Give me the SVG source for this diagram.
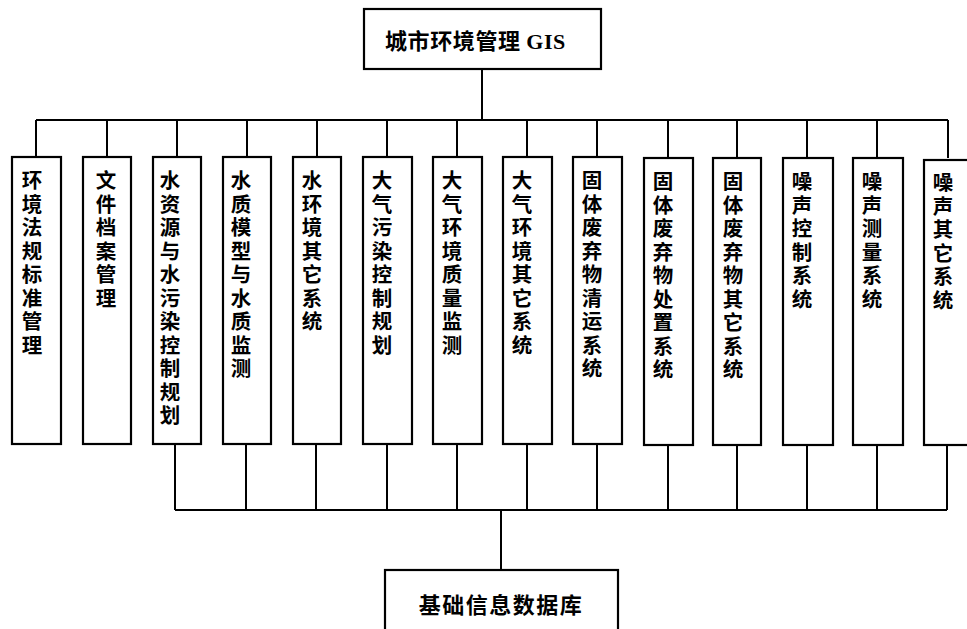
<svg xmlns="http://www.w3.org/2000/svg" width="967" height="629" viewBox="0 0 967 629">
<style>
.box{fill:#fff;stroke:#000;stroke-width:2.2}
.ln{stroke:#000;stroke-width:2;fill:none}
.t{font-family:"Noto Sans CJK SC","Liberation Sans",sans-serif;font-weight:700;fill:#000}
.v{font-size:20.5px;writing-mode:vertical-rl;letter-spacing:3px}
.h{font-size:22px}
.s{font-family:"Liberation Serif",serif}
</style>
<rect width="967" height="629" fill="#fff"/>
<g id="connectors">
<path class="ln" d="M482 69V120M36 120H948M36 120V157M107 120V157M177 120V157M247 120V157M317 120V157M387 120V157M457 120V157M527 120V157M597 120V157M668 120V157M737 120V157M807 120V157M877 120V157M948 120V158"/>
<path class="ln" d="M175 444V510M246 444V510M316 444V510M387 444V510M457 444V510M527 444V510M597 444V510M668 444V510M737 444V510M807 444V510M877 444V510M947 444V510M175 510H947M501 510V570"/>
</g>
<g id="top"><rect class="box" x="364" y="9" width="237" height="60"/><text class="t h" x="385" y="49" letter-spacing="0.6">城市环境管理 <tspan class="s">GIS</tspan></text></g>
<g id="n1"><rect class="box" x="12" y="157" width="49" height="287"/><text class="t v" x="32" y="170">环境法规标准管理</text></g>
<g id="n2"><rect class="box" x="83" y="157" width="48" height="287"/><text class="t v" x="106" y="170">文件档案管理</text></g>
<g id="n3"><rect class="box" x="153" y="157" width="48" height="287"/><text class="t v" x="170" y="170">水资源与水污染控制规划</text></g>
<g id="n4"><rect class="box" x="223" y="157" width="48" height="287"/><text class="t v" x="241" y="170">水质模型与水质监测</text></g>
<g id="n5"><rect class="box" x="293" y="157" width="48" height="287"/><text class="t v" x="312" y="170">水环境其它系统</text></g>
<g id="n6"><rect class="box" x="363" y="157" width="49" height="287"/><text class="t v" x="382" y="170">大气污染控制规划</text></g>
<g id="n7"><rect class="box" x="433" y="157" width="49" height="287"/><text class="t v" x="452" y="170">大气环境质量监测</text></g>
<g id="n8"><rect class="box" x="503" y="157" width="49" height="287"/><text class="t v" x="522" y="170">大气环境其它系统</text></g>
<g id="n9"><rect class="box" x="573" y="157" width="49" height="287"/><text class="t v" x="592" y="170">固体废弃物清运系统</text></g>
<g id="n10"><rect class="box" x="644" y="158" width="49" height="287"/><text class="t v" x="663" y="171">固体废弃物处置系统</text></g>
<g id="n11"><rect class="box" x="713" y="158" width="48" height="287"/><text class="t v" x="733" y="171">固体废弃物其它系统</text></g>
<g id="n12"><rect class="box" x="783" y="158" width="50" height="287"/><text class="t v" x="802" y="171">噪声控制系统</text></g>
<g id="n13"><rect class="box" x="853" y="158" width="50" height="287"/><text class="t v" x="872" y="171">噪声测量系统</text></g>
<g id="n14"><rect class="box" x="924" y="160" width="52" height="285"/><text class="t v" x="943" y="172">噪声其它系统</text></g>
<g id="bottom"><rect class="box" x="385" y="570" width="233" height="70"/><text class="t h" x="501" y="613" text-anchor="middle" letter-spacing="1.5">基础信息数据库</text></g>
</svg>
